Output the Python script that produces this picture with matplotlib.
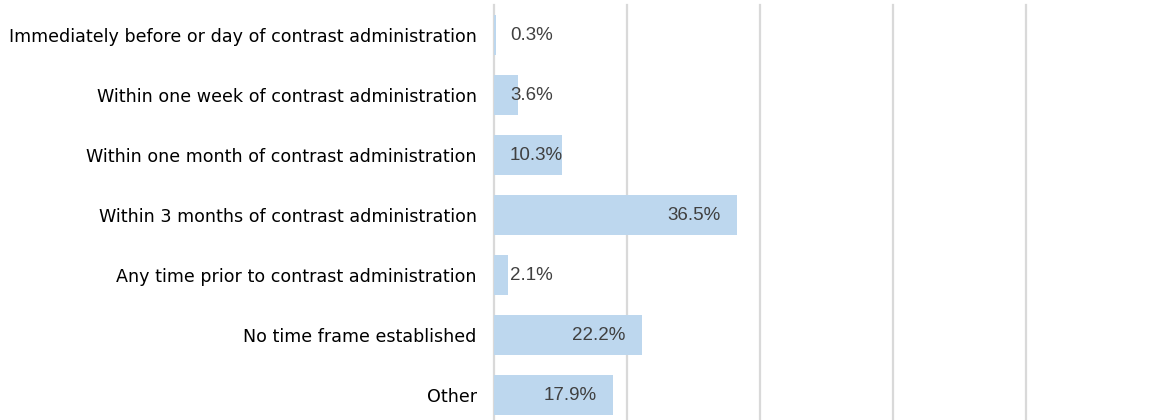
import matplotlib
matplotlib.use("Agg")
import matplotlib.pyplot as plt

categories = [
    "Immediately before or day of contrast administration",
    "Within one week of contrast administration",
    "Within one month of contrast administration",
    "Within 3 months of contrast administration",
    "Any time prior to contrast administration",
    "No time frame established",
    "Other",
]
values = [0.3, 3.6, 10.3, 36.5, 2.1, 22.2, 17.9]
value_labels = ["0.3%", "3.6%", "10.3%", "36.5%", "2.1%", "22.2%", "17.9%"]
xticks = [0, 20, 40, 60, 80, 100]

W, H, DPI = 1157, 420, 100
fig = plt.figure(figsize=(W / DPI, H / DPI), dpi=DPI)
left = 494 / W
right = 1.0
top = 1 - 5 / H
bottom = 1 - 425 / H
ax = fig.add_axes([left, bottom, right - left, top - bottom])

n = len(categories)
ypos = list(range(n))
ax.barh(ypos, values, height=0.667, color="#BDD7EE", zorder=2)
ax.set_xlim(0, 100 * (W - 494) / 665)
ax.set_ylim(n - 0.5, -0.5)

for x in xticks:
    ax.axvline(x, color="#D9D9D9", lw=1.6, zorder=1, clip_on=False)
for s in ax.spines.values():
    s.set_visible(False)
ax.set_xticks([])
ax.set_yticks(ypos)
ax.set_yticklabels(categories, fontsize=12.6, color="black", family=["DejaVu Sans"])
ax.tick_params(axis="y", length=0, pad=12.5)

fig.canvas.draw()
renderer = fig.canvas.get_renderer()
px_per_unit = 665 / 100
inset = 16 / px_per_unit
for y, v, lab in zip(ypos, values, value_labels):
    t = ax.text(0, y, lab, fontsize=13.5, color="#404040", va="center", ha="left",
                family=["Liberation Sans", "DejaVu Sans"], zorder=3)
    bb = t.get_window_extent(renderer=renderer)
    wdata = bb.width / px_per_unit
    xleft = max(inset, v - inset - wdata)
    t.set_x(xleft)

fig.savefig("out.png", dpi=DPI)
